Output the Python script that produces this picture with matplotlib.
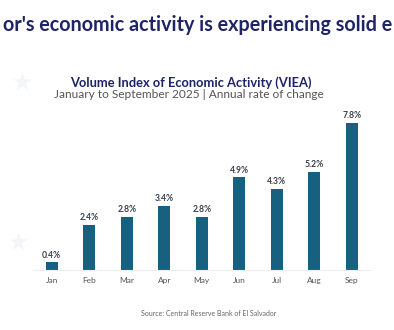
import matplotlib.pyplot as plt
import numpy as np

# monthly annual rate of change of the VIEA, 2025
months = ["Jan", "Feb", "Mar", "Apr", "May", "Jun", "Jul", "Aug", "Sep"]
growth = [0.4, 2.4, 2.8, 3.4, 2.8, 4.9, 4.3, 5.2, 7.8]

navy = "#1e2465"
bar_color = "#17607f"

plt.rcParams['font.family'] = ['Lato', 'DejaVu Sans']

fig = plt.figure(figsize=(3.94, 3.30), dpi=100)
fig.patch.set_facecolor("white")

# faint decorative stars on the left
fig.text(22 / 394, 1 - 83 / 330, "\u2605", fontsize=17, color="#f4f5f9",
         ha="center", va="center", family="DejaVu Sans")
fig.text(18 / 394, 1 - 243 / 330, "\u2605", fontsize=17, color="#f4f5f9",
         ha="center", va="center", family="DejaVu Sans")

# heading, cut off at both sides
fig.text(3 / 394, 1 - 25 / 330, "or's economic activity is experiencing solid e",
         fontsize=14.2, fontweight="bold", color=navy, ha="left", va="center")

fig.text(191 / 394, 1 - 83 / 330, "Volume Index of Economic Activity (VIEA)",
         fontsize=9.3, fontweight="bold", color=navy, ha="center", va="center")
fig.text(189 / 394, 1 - 94.5 / 330, "January to September 2025 | Annual rate of change",
         fontsize=8.6, color="#555555", ha="center", va="center")

ax = fig.add_axes([33 / 394, 60 / 330, 337.5 / 394, 160.6 / 330])
x = np.arange(len(months))
bars = ax.bar(x, growth, width=0.32, color=bar_color)

for xi, v in zip(x, growth):
    ax.annotate(f"{v:.1f}%", (xi, v), xytext=(0, 2), textcoords="offset points",
                ha="center", va="bottom", fontsize=6.2, fontweight="bold",
                color="#3a3f4f")

ax.set_xlim(-0.5, 8.5)
ax.set_ylim(0, 8.5)
ax.set_xticks(x)
ax.set_xticklabels(months, fontsize=6.0, color="#555555")
ax.tick_params(axis="x", length=0, pad=5)
ax.set_yticks([])
for side in ["top", "right", "left"]:
    ax.spines[side].set_visible(False)
ax.spines["bottom"].set_color("#eeeeee")
ax.spines["bottom"].set_linewidth(0.8)

fig.text(209 / 394, 1 - 313 / 330, "Source: Central Reserve Bank of El Salvador",
         fontsize=5, color="#666666", ha="center", va="center")

fig.savefig("out.png", dpi=100)
